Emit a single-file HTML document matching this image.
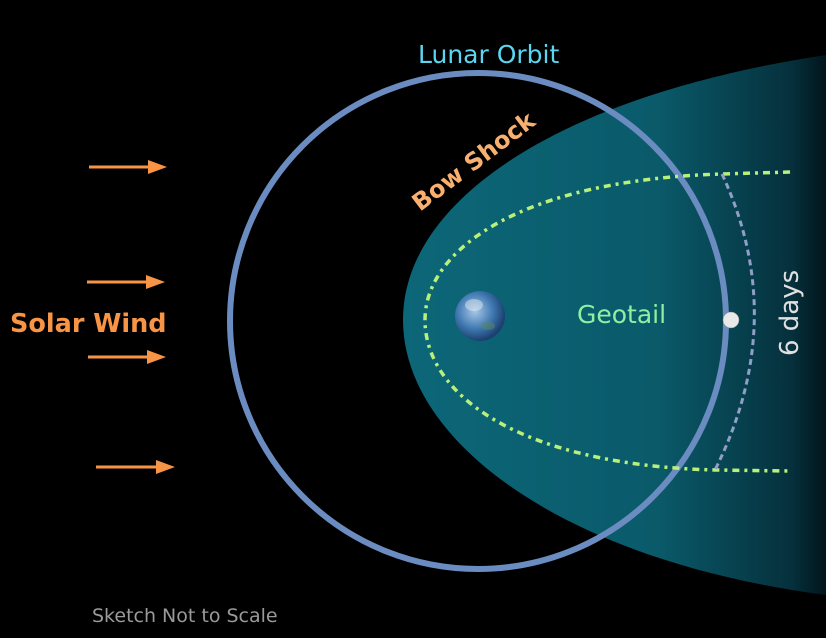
<!DOCTYPE html>
<html><head><meta charset="utf-8"><style>
html,body{margin:0;padding:0;background:#000;}
svg{display:block;}
text{font-family:"DejaVu Sans","Liberation Sans",sans-serif;}
</style></head><body>
<svg width="826" height="638" viewBox="0 0 826 638" xmlns="http://www.w3.org/2000/svg">
<defs>
<linearGradient id="tg" x1="403" y1="0" x2="826" y2="0" gradientUnits="userSpaceOnUse">
<stop offset="0" stop-color="#0c6778"/>
<stop offset="0.6" stop-color="#0a5a6a"/>
<stop offset="0.92" stop-color="#05303c"/>
<stop offset="1" stop-color="#02141a"/>
</linearGradient>
<radialGradient id="eg" cx="0.4" cy="0.4" r="0.6">
<stop offset="0" stop-color="#a8c8e8"/>
<stop offset="0.6" stop-color="#3f78b0"/>
<stop offset="1" stop-color="#1c4070"/>
</radialGradient>
</defs>
<rect width="826" height="638" fill="#000"/>
<path d="M826,55 C560,95 403,200 403,320 C403,440 560,560 826,595 Z" fill="url(#tg)"/>
<circle cx="478" cy="321" r="248" fill="none" stroke="#6b8cc0" stroke-width="6"/>
<path d="M790,172 L722,174 C520,180 425,250 425,320 C425,395 520,465 715,470 L790,471" fill="none" stroke="#b8f07a" stroke-width="3.5" stroke-dasharray="7,5,3,5"/>
<path d="M722,174 Q790,320 715,470" fill="none" stroke="#8f9fc8" stroke-width="3" stroke-dasharray="6,4"/>
<circle cx="480" cy="316" r="25" fill="url(#eg)"/>
<ellipse cx="474" cy="305" rx="9" ry="6" fill="#e8f0f4" opacity="0.45"/>
<ellipse cx="488" cy="326" rx="7" ry="4" fill="#5a8a60" opacity="0.5"/>
<circle cx="731" cy="320" r="8" fill="#e8e8e8" stroke="#999" stroke-width="0.5"/>
<g stroke="#f79446" stroke-width="3" fill="#f79446">
<line x1="89" y1="167" x2="150" y2="167"/><polygon points="148,160 167,167 148,174" stroke="none"/>
<line x1="87" y1="282" x2="148" y2="282"/><polygon points="146,275 165,282 146,289" stroke="none"/>
<line x1="88" y1="357" x2="149" y2="357"/><polygon points="147,350 166,357 147,364" stroke="none"/>
<line x1="96" y1="467" x2="158" y2="467"/><polygon points="156,460 175,467 156,474" stroke="none"/>
</g>
<text x="10" y="332" font-size="25.5" font-weight="bold" fill="#f79446">Solar Wind</text>
<text x="418" y="63" font-size="25" fill="#5ad6f0">Lunar Orbit</text>
<text x="0" y="0" font-size="24" font-weight="bold" fill="#f8b070" transform="translate(420,212) rotate(-37)">Bow Shock</text>
<text x="577" y="323" font-size="25" fill="#8ef0a0">Geotail</text>
<text x="0" y="0" font-size="26" fill="#e0e0e0" transform="translate(798,356) rotate(-90)">6 days</text>
<text x="92" y="622" font-size="19" fill="#9a9a9a">Sketch Not to Scale</text>
</svg>
</body></html>
